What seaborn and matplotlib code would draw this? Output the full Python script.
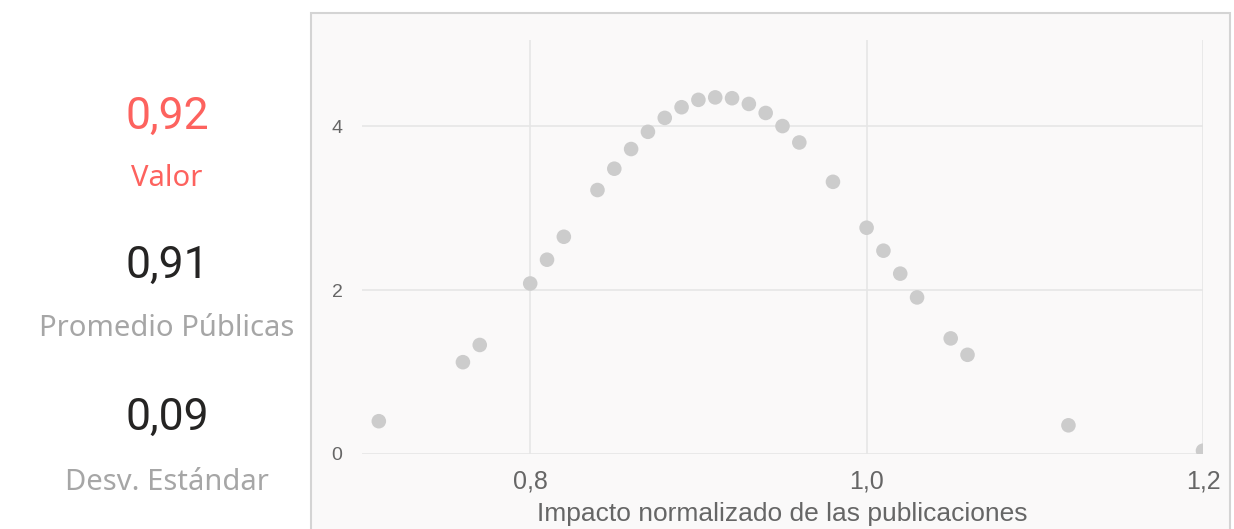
import matplotlib.pyplot as plt
import pandas as pd
import seaborn as sns
from matplotlib.patches import Rectangle

# Data
impacto = [0.71, 0.76, 0.77, 0.80, 0.81, 0.82, 0.84, 0.85, 0.86, 0.87,
           0.88, 0.89, 0.90, 0.91, 0.92, 0.93, 0.94, 0.95, 0.96, 0.98,
           1.00, 1.01, 1.02, 1.03, 1.05, 1.06, 1.12, 1.20]
densidad = [0.40, 1.12, 1.33, 2.08, 2.37, 2.65, 3.22, 3.48, 3.72, 3.93,
            4.10, 4.23, 4.32, 4.35, 4.34, 4.27, 4.16, 4.00, 3.80, 3.32,
            2.76, 2.48, 2.20, 1.91, 1.41, 1.21, 0.35, 0.04]

x_ticks = [0.8, 1.0, 1.2]
x_tick_labels = ["0,8", "1,0", "1,2"]
y_ticks = [0, 2, 4]
y_tick_labels = ["0", "2", "4"]

kpi_values = ["0,92", "0,91", "0,09"]
kpi_labels = ["Valor", "Promedio Públicas", "Desv. Estándar"]

df = pd.DataFrame({"impacto": impacto, "densidad": densidad})

sns.set_theme(style="whitegrid")
plt.rcParams["font.family"] = ["Liberation Sans", "DejaVu Sans"]

fig = plt.figure(figsize=(12.34, 5.29), dpi=100)
fig.patch.set_facecolor("white")

# panel behind the chart
panel = Rectangle((311 / 1234, -0.05), (1230 - 311) / 1234, 1 - 13 / 529 + 0.05,
                  transform=fig.transFigure, facecolor="#faf9f9",
                  edgecolor="#d4d4d4", linewidth=1.5, zorder=-1)
fig.patches.append(panel)

ax = fig.add_axes([362 / 1234, 1 - 454 / 529, (1203 - 362) / 1234, (454 - 40) / 529])
ax.set_facecolor("none")

sns.scatterplot(data=df, x="impacto", y="densidad", ax=ax, color="#cccccc",
                s=110, edgecolor="none", legend=False, zorder=3)

ax.set_xlim(0.7, 1.2)
ax.set_ylim(0, 5.05)
ax.set_xticks(x_ticks)
ax.set_xticklabels(x_tick_labels, color="#666666")
ax.set_yticks(y_ticks)
ax.set_yticklabels(y_tick_labels, color="#666666")
ax.tick_params(axis="x", pad=11, length=0, labelsize=18)
ax.tick_params(axis="y", pad=14, length=0, labelsize=14)
ax.grid(True, color="#e6e6e6", linewidth=1.2)
for s in ax.spines.values():
    s.set_visible(False)
ax.set_xlabel("Impacto normalizado de las publicaciones", fontsize=19,
              color="#666666", labelpad=6)
ax.set_ylabel("")

# KPI cards on the left
val_colors = ["#fd625e", "#252423", "#252423"]
lab_colors = ["#fd625e", "#a6a6a6", "#a6a6a6"]
val_y = [117, 266, 418]
lab_y = [178, 328, 482]
for v, l, vc, lc, vy, ly in zip(kpi_values, kpi_labels, val_colors, lab_colors, val_y, lab_y):
    fig.text(167 / 1234, 1 - vy / 529, v, ha="center", va="center",
             fontsize=32, color=vc, family=["Roboto", "DejaVu Sans"])
    fig.text(167 / 1234, 1 - ly / 529, l, ha="center", va="center",
             fontsize=21, color=lc, family=["Noto Sans", "DejaVu Sans"])

fig.savefig("out.png", dpi=100, facecolor="white")
